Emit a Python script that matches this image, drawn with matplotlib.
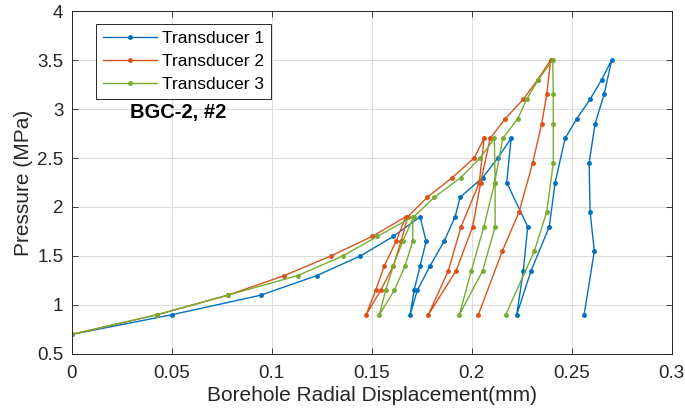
import matplotlib
matplotlib.use("Agg")
import matplotlib.pyplot as plt
from matplotlib.ticker import FuncFormatter

plt.rcParams['font.family'] = ['Liberation Sans', 'DejaVu Sans']

# Transducer 1 (load / unload / reload cycles)
disp_1 = [0.0, 0.050, 0.0945, 0.1225, 0.1443, 0.1608, 0.1742,
          0.1772, 0.1742, 0.1712, 0.1692,
          0.1728, 0.1792, 0.1862, 0.1917,
          0.1942, 0.2055, 0.2130, 0.2197,
          0.2175, 0.2280, 0.2258, 0.2225,
          0.2297, 0.2388, 0.2417, 0.2467,
          0.2525, 0.2592, 0.2650, 0.2700,
          0.2662, 0.2617, 0.2587, 0.2592, 0.2613, 0.2562]
pres_1 = [0.7, 0.9, 1.1, 1.3, 1.5, 1.7, 1.9,
          1.65, 1.4, 1.15, 0.9,
          1.15, 1.4, 1.65, 1.9,
          2.1, 2.3, 2.5, 2.7,
          2.25, 1.8, 1.35, 0.9,
          1.35, 1.8, 2.25, 2.7,
          2.9, 3.1, 3.3, 3.5,
          3.15, 2.85, 2.45, 1.95, 1.55, 0.9]

# Transducer 2
disp_2 = [0.0, 0.0425, 0.0780, 0.1063, 0.1295, 0.1503, 0.1670,
          0.1622, 0.1563, 0.1520, 0.1472,
          0.1545, 0.1608, 0.1647, 0.1680,
          0.1778, 0.1903, 0.2012, 0.2062,
          0.2038, 0.1947, 0.1883, 0.1783,
          0.1922, 0.2005, 0.2045, 0.2092,
          0.2167, 0.2258, 0.2330, 0.2395,
          0.2375, 0.2350, 0.2305, 0.2237, 0.2153, 0.2033]
pres_2 = pres_1

# Transducer 3
disp_3 = [0.0, 0.0425, 0.0780, 0.1130, 0.1355, 0.1528, 0.1705,
          0.1705, 0.1667, 0.1613, 0.1538,
          0.1570, 0.1608, 0.1655, 0.1710,
          0.1813, 0.1945, 0.2042, 0.2113,
          0.2117, 0.2117, 0.2055, 0.1938,
          0.1998, 0.2061, 0.2115, 0.2155,
          0.2230, 0.2275, 0.2333, 0.2405,
          0.2408, 0.2408, 0.2408, 0.2375, 0.2313, 0.2170]
pres_3 = pres_1

labels = ["Transducer 1", "Transducer 2", "Transducer 3"]
colors = ["#0072BD", "#D95319", "#77AC30"]
x_ticks = [0, 0.05, 0.1, 0.15, 0.2, 0.25, 0.3]
y_ticks = [0.5, 1, 1.5, 2, 2.5, 3, 3.5, 4]

fig = plt.figure(figsize=(6.85, 4.17), dpi=100)
ax = fig.add_axes([0.1047, 0.1511, 0.8759, 0.8225])

for d, p, lab, c in zip([disp_1, disp_2, disp_3], [pres_1, pres_2, pres_3], labels, colors):
    ax.plot(d, p, color=c, linewidth=1.0, marker='.', markersize=5, label=lab)

ax.set_xlim(0, 0.3)
ax.set_ylim(0.5, 4)
ax.set_xticks(x_ticks)
ax.set_yticks(y_ticks)
ax.xaxis.set_major_formatter(FuncFormatter(lambda v, pos: f"{v:g}"))
ax.yaxis.set_major_formatter(FuncFormatter(lambda v, pos: f"{v:g}"))
ax.tick_params(direction='in', length=4, width=0.6, colors='#262626',
               labelsize=13.5, top=True, right=True, labelcolor='#262626')
ax.tick_params(axis='x', pad=8)
ax.tick_params(axis='y', pad=6)
ax.grid(True, color='#dcdcdc', linewidth=0.8)
ax.set_axisbelow(True)
for s in ax.spines.values():
    s.set_color('#262626')
    s.set_linewidth(0.7)

ax.set_xlabel("Borehole Radial Displacement(mm)", fontsize=15, color='#262626', labelpad=3)
ax.set_ylabel("Pressure (MPa)", fontsize=15, color='#262626', labelpad=3)

leg = ax.legend(loc='upper left', bbox_to_anchor=(0.041, 0.963), fontsize=12.5,
                fancybox=False, edgecolor='#262626', framealpha=1,
                handlelength=3.1, borderpad=0.4, labelspacing=0.45,
                handletextpad=0.3, borderaxespad=0)
leg.get_frame().set_linewidth(0.7)

ax.text(0.029, 2.96, "BGC-2, #2", fontsize=14.5, fontweight='bold', va='center', ha='left')

fig.savefig("out.png", dpi=100)
